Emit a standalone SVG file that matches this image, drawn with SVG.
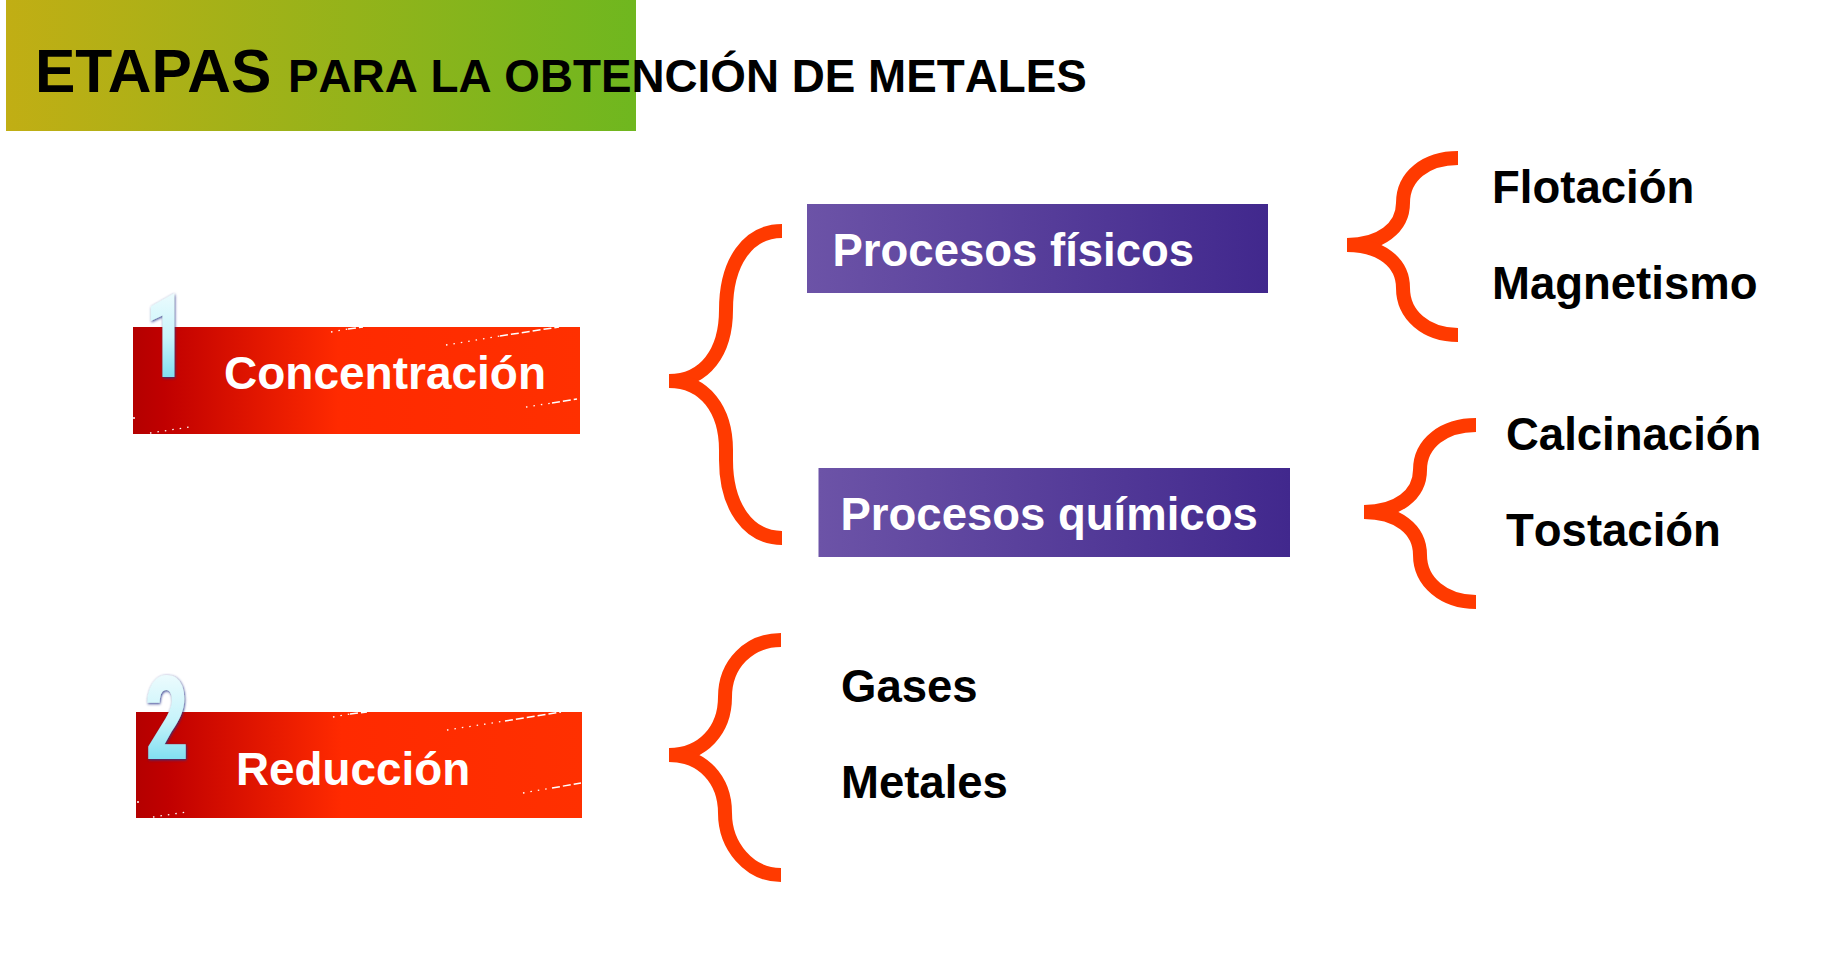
<svg xmlns="http://www.w3.org/2000/svg" width="1841" height="969" viewBox="0 0 1841 969">
  <style>
    text { font-family: "Liberation Sans", Arial, sans-serif; font-weight: 700; font-kerning: none; }
    .t { font-size: 45.5px; fill: #000; }
    .w { font-size: 45.5px; fill: #fff; }
    .brace { fill: none; stroke: #ff3a00; stroke-width: 14; stroke-linecap: butt; }
    .dot { stroke: #fff; stroke-width: 1.3; stroke-dasharray: 1.5 6; fill: none; }
    .dash { stroke: #fff; stroke-width: 1.5; stroke-dasharray: 8 3; fill: none; }
    .num { font-family: Roboto, "Liberation Sans", sans-serif; font-weight: 900; font-size: 116px; fill: url(#ice); filter: url(#glow); }
  </style>
  <defs>
    <linearGradient id="title"><stop offset="0" stop-color="#c1ae14"/><stop offset="1" stop-color="#6fb71f"/></linearGradient>
    <linearGradient id="red"><stop offset="0" stop-color="#b40000"/><stop offset="0.07" stop-color="#c00000"/><stop offset="0.46" stop-color="#ff2a00"/><stop offset="1" stop-color="#ff3000"/></linearGradient>
    <linearGradient id="purple"><stop offset="0" stop-color="#6c53a7"/><stop offset="1" stop-color="#41288d"/></linearGradient>
    <linearGradient id="ice" x1="0" y1="0" x2="0" y2="1"><stop offset="0" stop-color="#ffffff"/><stop offset="0.5" stop-color="#c8f4fb"/><stop offset="1" stop-color="#4fd0ea"/></linearGradient>
    <filter id="glow" x="-40%" y="-20%" width="180%" height="140%"><feDropShadow dx="1" dy="1" stdDeviation="1.4" flood-color="#26348c" flood-opacity="1"/></filter>
  </defs>
  <rect width="1841" height="969" fill="#fff"/>

  <g id="title-node">
    <rect x="6" y="0" width="630" height="131" fill="url(#title)"/>
    <text x="35" y="92" font-size="60.5" style="font-kerning: normal">ETAPAS</text>
    <text x="288" y="92" font-size="45.8">PARA LA OBTENCIÓN DE METALES</text>
  </g>

  <g id="connectors">
    <path class="brace" d="M782,231 C748,231 726,262 726,310 C726,352 705,381 669,381"/>
    <path class="brace" d="M669,381 C705,381 726,410 726,450 L726,460 C726,506 748,538 782,538"/>
    <path class="brace" d="M1458,158 C1426,158 1403,176 1403,203 C1403,228 1380,245 1347,245"/>
    <path class="brace" d="M1347,245 C1380,245 1403,262 1403,288 C1403,315 1426,335 1458,335"/>
    <path class="brace" d="M1476,425 C1444,425 1420,443 1420,470 C1420,495 1397,512 1364,512"/>
    <path class="brace" d="M1364,512 C1397,512 1420,529 1420,555 C1420,582 1444,602 1476,602"/>
    <path class="brace" d="M781,640 C749,640 725,664 725,697 C725,730 703,755 669,755"/>
    <path class="brace" d="M669,755 C703,755 725,780 725,813 C725,846 749,875 781,875"/>
  </g>

  <g id="concentracion">
    <rect x="133" y="327" width="447" height="107" fill="url(#red)"/>
    <path class="dot" d="M331,332 L348,329 M446,345 L500,336 M526,407 L552,403 M150,433 L190,427"/>
    <path class="dash" d="M348,329 L363,327 M500,336 L559,327 M552,403 L577,399 M133,418 H135"/>
    <text class="num" transform="translate(145,377) scale(0.62,1)">1</text>
    <text class="w" x="224" y="389" style="font-size:46px">Concentración</text>
  </g>

  <g id="reduccion">
    <rect x="136" y="712" width="446" height="106" fill="url(#red)"/>
    <path class="dot" d="M333,717 L350,714 M447,730 L505,721 M523,793 L552,788 M153,817 L187,812"/>
    <path class="dash" d="M350,714 L367,712 M505,721 L561,712 M552,788 L581,783 M137,802 H139"/>
    <text class="num" transform="translate(145,759) scale(0.65,1)">2</text>
    <text class="w" x="236" y="785" style="font-size:45.8px">Reducción</text>
  </g>

  <g id="procesos-fisicos">
    <rect x="807" y="204" width="461" height="89" fill="url(#purple)"/>
    <text class="w" x="832.5" y="265.5">Procesos físicos</text>
  </g>

  <g id="procesos-quimicos">
    <rect x="818.5" y="468" width="471.5" height="89" fill="url(#purple)"/>
    <text class="w" x="840.5" y="530">Procesos químicos</text>
  </g>

  <g id="flotacion"><text class="t" x="1492" y="202.5">Flotación</text></g>
  <g id="magnetismo"><text class="t" x="1492" y="298.5">Magnetismo</text></g>
  <g id="calcinacion"><text class="t" x="1506" y="449.5">Calcinación</text></g>
  <g id="tostacion"><text class="t" x="1506" y="545.5">Tostación</text></g>
  <g id="gases"><text class="t" x="841" y="702">Gases</text></g>
  <g id="metales"><text class="t" x="841" y="798">Metales</text></g>
</svg>
